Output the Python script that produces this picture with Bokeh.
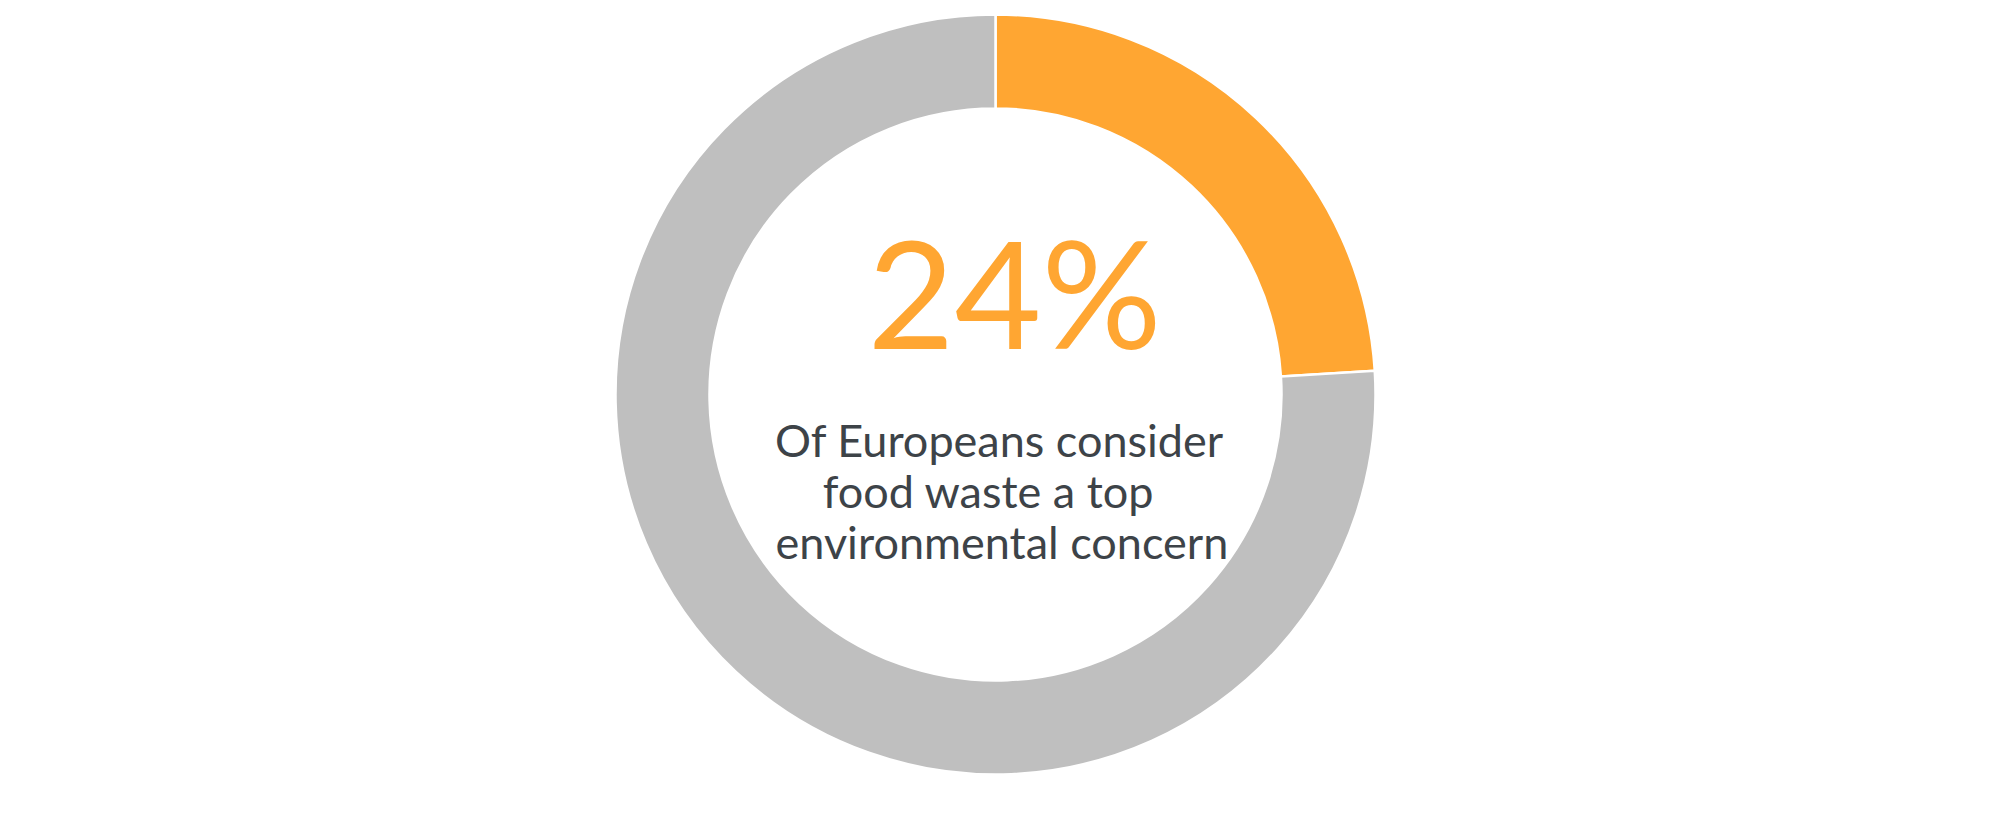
import math
from bokeh.plotting import figure
from bokeh.models import Range1d, ColumnDataSource
from bokeh.core.properties import value
from bokeh.embed import file_html
from bokeh.resources import INLINE

# data
categories = ["Consider food waste a top concern", "Other"]
shares = [24, 76]
colors = ["#ffa632", "#bfbfbf"]
big_label = "24%"
caption_lines = ["Of Europeans consider", "food waste a top", "environmental concern"]

W, H = 2000, 821
p = figure(width=W, height=H, output_backend="svg", toolbar_location=None,
           x_range=Range1d(0, W), y_range=Range1d(0, H), min_border=0)
p.axis.visible = False
p.grid.visible = False
p.outline_line_color = None
p.background_fill_color = "white"

# centre text (drawn under the ring)
p.text(x=[1014], y=[531], text=[big_label], text_font=value("Lato"),
       text_font_size="150px", text_color="#ffa632", text_align="center",
       text_baseline="alphabetic")

p.text(x=[999, 988], y=[382, 331], text=caption_lines[:2],
       text_font=value("Lato"), text_font_size="45px", text_color="#3d4348",
       text_align="center", text_baseline="alphabetic")
p.text(x=[775], y=[280], text=caption_lines[2:],
       text_font=value("Lato"), text_font_size="45px", text_color="#3d4348",
       text_align="left", text_baseline="alphabetic")
# text box overflow clip
p.quad(left=[1226], right=[1262], bottom=[249], top=[296],
       fill_color="white", line_color=None)

total = sum(shares)
cum = 0.0
starts, ends = [], []
for s in shares:
    end = math.pi / 2 - 2 * math.pi * cum / total
    start = math.pi / 2 - 2 * math.pi * (cum + s) / total
    starts.append(start)
    ends.append(end)
    cum += s

cx, cy = 995, 427
src = ColumnDataSource(dict(cat=categories, share=shares, color=colors,
                            start=starts, end=ends))
p.annular_wedge(x=cx, y=cy, inner_radius=286, outer_radius=380,
                start_angle="start", end_angle="end", source=src,
                fill_color="color", line_color="white", line_width=2.5,
                inner_radius_units="screen", outer_radius_units="screen")

open("out.html", "w").write(file_html(p, INLINE))
